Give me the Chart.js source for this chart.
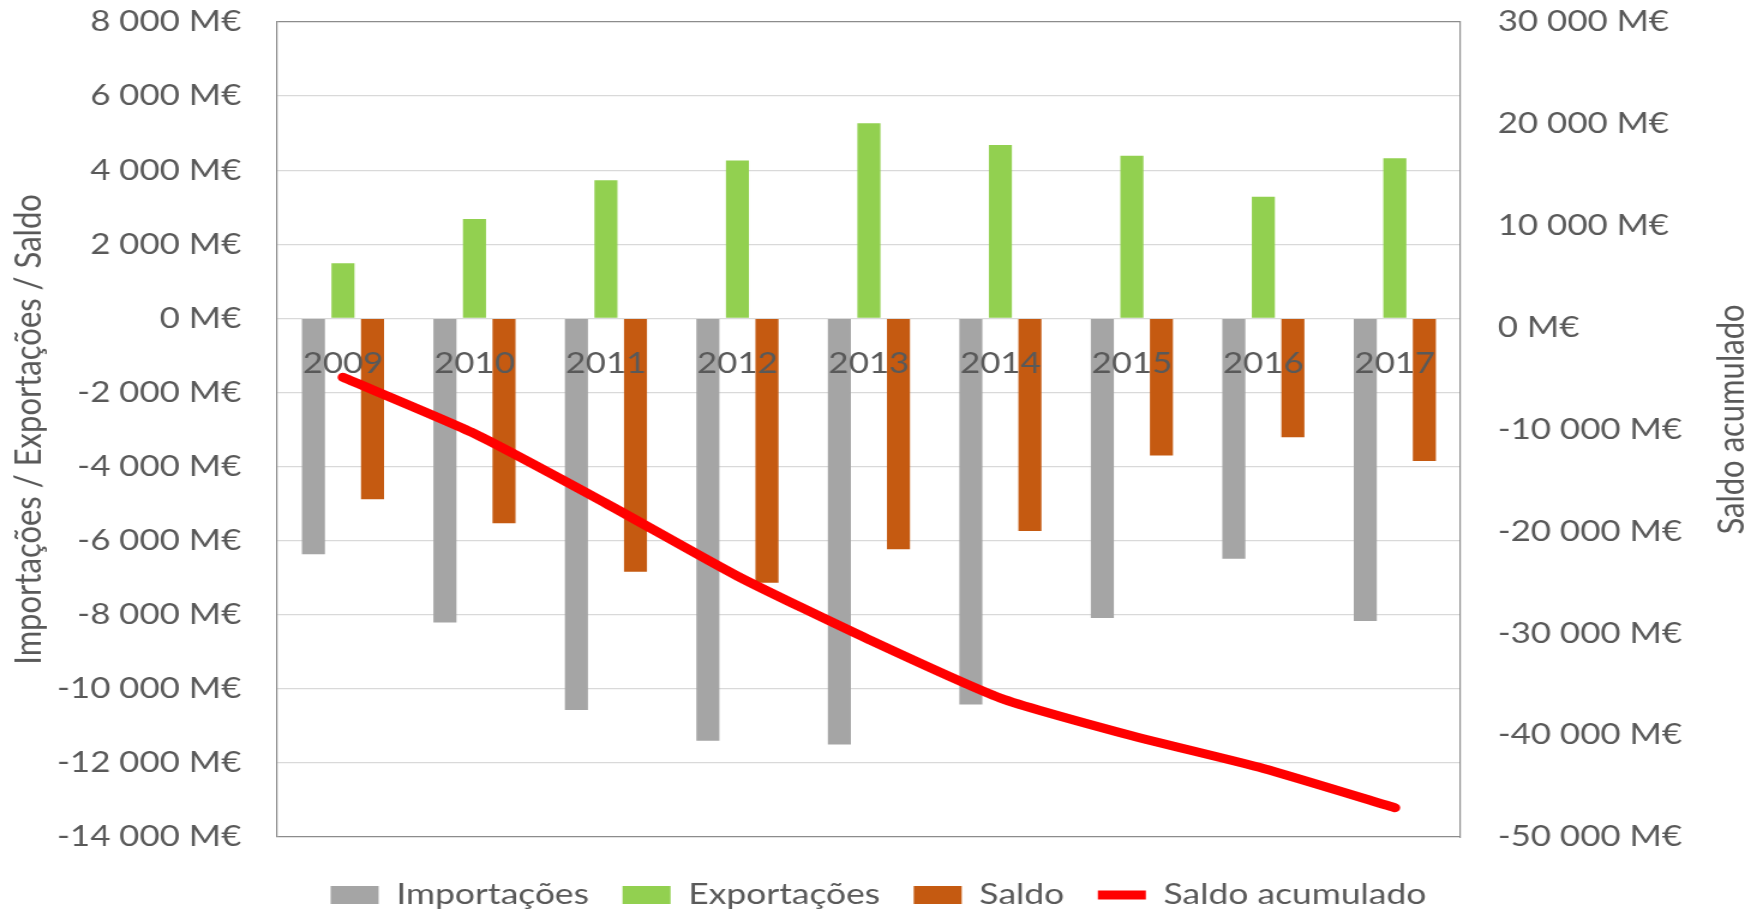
<!DOCTYPE html>
<html>
<head>
<meta charset="utf-8">
<script src="https://cdn.jsdelivr.net/npm/chart.js@4"></script>
<style>
  html, body { margin: 0; padding: 0; background: #fff; }
</style>
</head>
<body>
<!-- o gráfico original está esticado na horizontal, por isso o canvas também -->
<canvas id="grafico" width="1464" height="913" style="width:1757px;height:913px;display:block"></canvas>
<script>
// dados (M€)
const anos = ['2009', '2010', '2011', '2012', '2013', '2014', '2015', '2016', '2017'];
const importacoes = [-6370, -8210, -10570, -11400, -11500, -10420, -8090, -6490, -8170];
const exportacoes = [1490, 2680, 3730, 4260, 5270, 4680, 4390, 3280, 4320];
const saldo = [-4880, -5530, -6840, -7140, -6230, -5740, -3700, -3210, -3850];
const saldoAcumulado = [-4880, -10410, -17250, -24390, -30620, -36360, -40060, -43270, -47120];

const ticksEsquerda = [8000, 6000, 4000, 2000, 0, -2000, -4000, -6000, -8000, -10000, -12000, -14000];
const ticksDireita = [30000, 20000, 10000, 0, -10000, -20000, -30000, -40000, -50000];

const tituloEsquerda = 'Importações / Exportações / Saldo';
const tituloDireita = 'Saldo acumulado';

const corTexto = '#595959';
const corGrelha = '#d9d9d9';
const corMoldura = '#8c8c8c';
const fonte = 'Lato, Carlito, Calibri, sans-serif';

function formatar(v) {
    const s = Math.abs(v).toString().replace(/\B(?=(\d{3})+(?!\d))/g, ' ');
    return (v < 0 ? '-' : '') + s + ' M€';
}

// titulo do eixo da direita lido de baixo para cima (como no Excel)
const tituloDireitaPlugin = {
    id: 'tituloDireita',
    afterDraw(chart) {
        const s = chart.scales.y1;
        const area = chart.chartArea;
        const ctx = chart.ctx;
        ctx.save();
        ctx.translate(s.right - 21, (area.top + area.bottom) / 2 - 10);
        ctx.rotate(-Math.PI / 2);
        ctx.font = '31px ' + fonte;
        ctx.fillStyle = corTexto;
        ctx.textAlign = 'center';
        ctx.textBaseline = 'middle';
        ctx.fillText(tituloDireita, 0, 0);
        ctx.restore();
    }
};

function desenhar() {
    const ctx = document.getElementById('grafico');

    new Chart(ctx, {
        type: 'bar',
        data: {
            labels: anos,
            datasets: [
                {
                    label: 'Importações',
                    data: importacoes,
                    backgroundColor: '#a5a5a5',
                    borderWidth: 0,
                    yAxisID: 'y',
                    order: 1
                },
                {
                    label: 'Exportações',
                    data: exportacoes,
                    backgroundColor: '#92d050',
                    borderWidth: 0,
                    yAxisID: 'y',
                    order: 1
                },
                {
                    label: 'Saldo',
                    data: saldo,
                    backgroundColor: '#c55a11',
                    borderWidth: 0,
                    yAxisID: 'y',
                    order: 1
                },
                {
                    type: 'line',
                    label: 'Saldo acumulado',
                    data: saldoAcumulado,
                    borderColor: '#ff0000',
                    backgroundColor: '#ff0000',
                    borderWidth: 9,
                    borderCapStyle: 'round',
                    borderJoinStyle: 'round',
                    pointRadius: 0,
                    tension: 0.2,
                    yAxisID: 'y1',
                    order: 0
                }
            ]
        },
        options: {
            responsive: false,
            devicePixelRatio: 1,
            animation: false,
            layout: { padding: { top: 22, left: 0, right: 0, bottom: 0 } },
            datasets: {
                bar: { categoryPercentage: 0.674, barPercentage: 0.78 }
            },
            plugins: {
                tooltip: { enabled: false },
                legend: {
                    position: 'bottom',
                    maxHeight: 76,
                    // titulo vazio so para baixar a linha da legenda
                    title: { display: true, text: ' ', font: { size: 1 }, padding: { top: 14, bottom: 0 } },
                    labels: {
                        color: corTexto,
                        font: { family: fonte, size: 29.5 },
                        usePointStyle: true,
                        pointStyleWidth: 40,
                        boxHeight: 18,
                        padding: 28,
                        sort: (a, b) => a.datasetIndex - b.datasetIndex,
                        generateLabels(chart) {
                            const itens = Chart.defaults.plugins.legend.labels.generateLabels(chart);
                            itens.forEach((it) => {
                                it.pointStyle = it.datasetIndex === 3 ? 'line' : 'rect';
                            });
                            return itens;
                        }
                    }
                }
            },
            scales: {
                x: {
                    position: { y: 0 },
                    afterFit: (s) => { s.height = 0; },
                    grid: { display: false, drawTicks: false },
                    border: { display: false },
                    ticks: {
                        z: 1,
                        color: corTexto,
                        font: { family: fonte, size: 29 },
                        padding: 28
                    }
                },
                y: {
                    position: 'left',
                    min: -14000,
                    max: 8000,
                    afterBuildTicks: (s) => { s.ticks = ticksEsquerda.map(v => ({ value: v })); },
                    afterFit: (s) => { s.width = 231; },
                    grid: {
                        tickLength: 30,
                        tickColor: 'rgba(0,0,0,0)',
                        lineWidth: 1.3,
                        color: (c) => (c.tick && (c.tick.value === 8000 || c.tick.value === -14000)) ? corMoldura : corGrelha
                    },
                    border: { display: true, color: corMoldura, width: 1.2 },
                    ticks: {
                        color: corTexto,
                        font: { family: fonte, size: 29 },
                        padding: 0,
                        callback: (v) => formatar(v)
                    },
                    title: {
                        display: true,
                        text: tituloEsquerda,
                        color: corTexto,
                        font: { family: fonte, size: 31 },
                        padding: { top: 5, bottom: 0 }
                    }
                },
                y1: {
                    position: 'right',
                    min: -50000,
                    max: 30000,
                    afterBuildTicks: (s) => { s.ticks = ticksDireita.map(v => ({ value: v })); },
                    afterFit: (s) => { s.width = 247; },
                    grid: { drawOnChartArea: false, tickLength: 31, tickColor: 'rgba(0,0,0,0)' },
                    border: { display: true, color: corMoldura, width: 1.2 },
                    ticks: {
                        color: corTexto,
                        font: { family: fonte, size: 29 },
                        padding: 0,
                        callback: (v) => formatar(v)
                    }
                }
            }
        },
        plugins: [tituloDireitaPlugin]
    });
}

document.fonts.load('29px Lato').then(desenhar, desenhar);
</script>
</body>
</html>
